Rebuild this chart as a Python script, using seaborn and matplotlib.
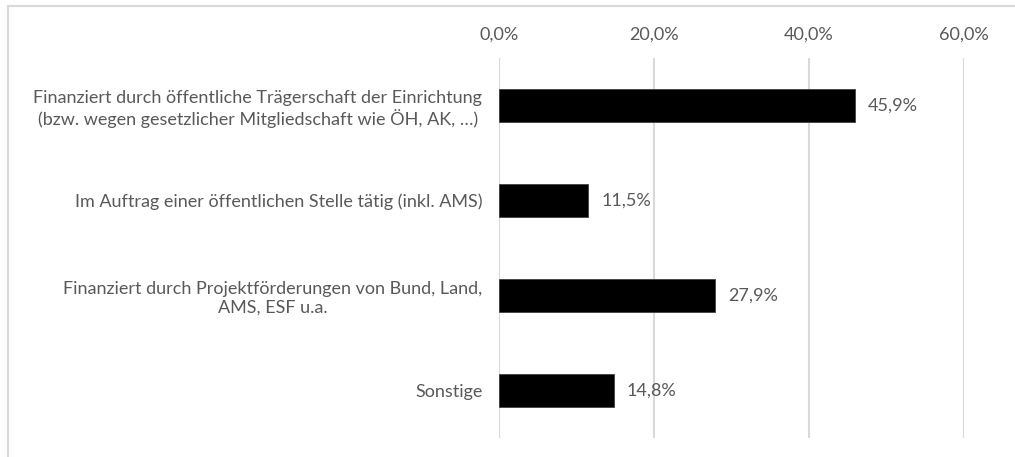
import matplotlib
matplotlib.use('Agg')
import matplotlib.pyplot as plt
from matplotlib.lines import Line2D
from matplotlib.ticker import FuncFormatter
import seaborn as sns
import pandas as pd

# Data
categories = [
    'Finanziert durch öffentliche Trägerschaft der Einrichtung\n(bzw. wegen gesetzlicher Mitgliedschaft wie ÖH, AK, …)',
    'Im Auftrag einer öffentlichen Stelle tätig (inkl. AMS)',
    'Finanziert durch Projektförderungen von Bund, Land,\nAMS, ESF u.a.',
    'Sonstige',
]
values = [45.9, 11.5, 27.9, 14.8]
xticks = [0, 20, 40, 60]

TEXT = '#595959'
GRID = '#d9d9d9'
FS = 13

sns.set_theme(style='white')
plt.rcParams['font.family'] = ['Lato', 'DejaVu Sans']

df = pd.DataFrame({'cat': categories, 'val': values})

fig = plt.figure(figsize=(10.15, 4.57), dpi=100)
ax = fig.add_axes([499 / 1015, 1 - 438 / 457, (964 - 499) / 1015, (438 - 58) / 457])

sns.barplot(data=df, x='val', y='cat', color='black', width=0.35,
            edgecolor='#404040', linewidth=0.6, ax=ax, zorder=3)

ax.set_xlim(0, 60)
ax.set_xticks(xticks)
ax.xaxis.set_major_formatter(FuncFormatter(lambda v, p: f'{v:.1f}%'.replace('.', ',')))
ax.xaxis.tick_top()
ax.tick_params(axis='x', length=0, pad=11, labelsize=FS, colors=TEXT)
ax.tick_params(axis='y', length=0, pad=12, labelsize=FS, colors=TEXT)
for lbl in ax.get_yticklabels():
    lbl.set_horizontalalignment('right')
    lbl.set_multialignment('center')
ax.set_xlabel('')
ax.set_ylabel('')
ax.grid(axis='x', color=GRID, linewidth=1.5, zorder=0)
for s in ax.spines.values():
    s.set_visible(False)

# value labels next to the bars
for i, v in enumerate(values):
    ax.text(v + 1.7, i, f'{v:.1f}%'.replace('.', ','), va='center', ha='left',
            fontsize=FS, color=TEXT)

# chart frame (top and left edges visible)
fig.add_artist(Line2D([8 / 1015, 1.0], [1 - 6 / 457, 1 - 6 / 457],
                      transform=fig.transFigure, color=GRID, linewidth=1.5))
fig.add_artist(Line2D([8 / 1015, 8 / 1015], [0.0, 1 - 6 / 457],
                      transform=fig.transFigure, color=GRID, linewidth=1.5))

fig.savefig('out.png', dpi=100)
